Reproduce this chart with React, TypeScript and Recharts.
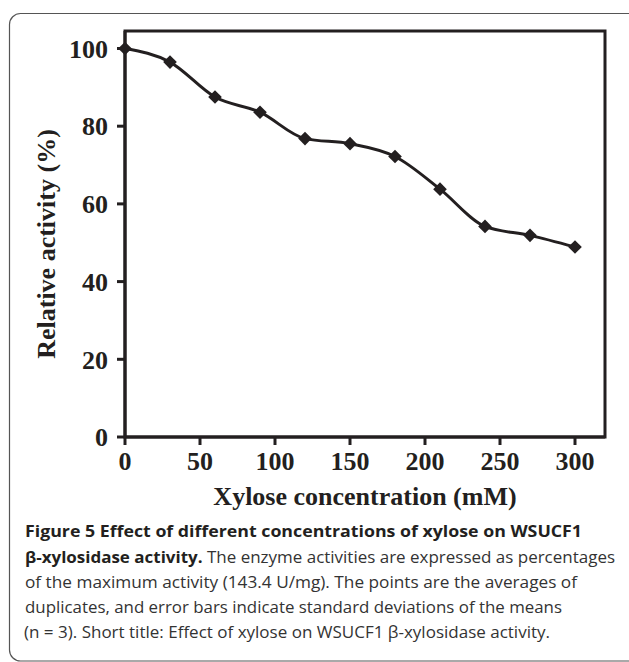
import React from 'react';
import { LineChart, Line, XAxis, YAxis, ReferenceArea } from 'recharts';

const concentrations = [0, 30, 60, 90, 120, 150, 180, 210, 240, 270, 300];
const activity = [100, 96.5, 87.5, 83.6, 76.8, 75.5, 72.2, 63.8, 54.2, 51.9, 48.9];
const xTicks = [0, 50, 100, 150, 200, 250, 300];
const yTicks = [0, 20, 40, 60, 80, 100];

const X_MAX = 320;
const Y_MAX = 104.5;

const INK = '#231f20';
const SERIF = '"Liberation Serif", "Times New Roman", serif';
const SANS = '"Open Sans", "Noto Sans", sans-serif';

const data = concentrations.map((c, i) => ({ x: c, y: activity[i] }));

const tickStyle = { fill: INK, fontFamily: SERIF, fontWeight: 700, fontSize: 26 };

function Diamond(props: any) {
    const { cx, cy } = props;
    if (cx == null || cy == null) return null;
    const r = 6.8;
    return <path d={`M${cx},${cy - r}L${cx + r},${cy}L${cx},${cy + r}L${cx - r},${cy}Z`} fill={INK} />;
}

function YLabel() {
    return (
        <text
            x={55}
            y={244}
            transform="rotate(-90 55 244)"
            textAnchor="middle"
            fill={INK}
            style={{ fontFamily: SERIF, fontWeight: 700, fontSize: 26 }}
        >
            Relative activity (%)
        </text>
    );
}

function XLabel() {
    return (
        <text x={365} y={505} textAnchor="middle" fill={INK} style={{ fontFamily: SERIF, fontWeight: 700, fontSize: 26 }}>
            Xylose concentration (mM)
        </text>
    );
}

function Caption() {
    const regular = { fontFamily: SANS, fontSize: 16, fill: '#333' };
    const bold = { fontFamily: SANS, fontSize: 16, fontWeight: 700, fill: INK };
    return (
        <svg width={629} height={662} style={{ position: 'absolute', left: 0, top: 0 }}>
            <rect x={9.5} y={13.5} width={640} height={647.5} rx={11} fill="none" stroke="#555" strokeWidth={1.2} />
            <text x={25} y={537} textLength={557} lengthAdjust="spacingAndGlyphs" style={bold}>
                Figure 5 Effect of different concentrations of xylose on WSUCF1
            </text>
            <text x={25} y={563} textLength={590} lengthAdjust="spacingAndGlyphs" style={regular}>
                <tspan style={bold}>β-xylosidase activity.</tspan> The enzyme activities are expressed as percentages
            </text>
            <text x={25} y={588} textLength={552} lengthAdjust="spacingAndGlyphs" style={regular}>
                of the maximum activity (143.4 U/mg). The points are the averages of
            </text>
            <text x={25} y={613} textLength={537} lengthAdjust="spacingAndGlyphs" style={regular}>
                duplicates, and error bars indicate standard deviations of the means
            </text>
            <text x={24} y={638} textLength={526} lengthAdjust="spacingAndGlyphs" style={regular}>
                (n = 3). Short title: Effect of xylose on WSUCF1 β-xylosidase activity.
            </text>
        </svg>
    );
}

export default function App() {
    return (
        <div style={{ position: 'absolute', left: 0, top: 0, width: 629, height: 662, background: '#fff' }}>
            <LineChart width={629} height={662} data={data} margin={{ top: 31, right: 24, left: 0, bottom: 165 }}>
                <XAxis
                    type="number"
                    dataKey="x"
                    domain={[0, X_MAX]}
                    ticks={xTicks}
                    height={60}
                    tickSize={8}
                    tickMargin={7}
                    axisLine={{ stroke: INK, strokeWidth: 3 }}
                    tickLine={{ stroke: INK, strokeWidth: 3 }}
                    tick={tickStyle}
                    label={<XLabel />}
                />
                <YAxis
                    type="number"
                    domain={[0, Y_MAX]}
                    ticks={yTicks}
                    width={125}
                    tickSize={8}
                    tickMargin={9}
                    axisLine={{ stroke: INK, strokeWidth: 3 }}
                    tickLine={{ stroke: INK, strokeWidth: 3 }}
                    tick={tickStyle}
                    label={<YLabel />}
                />
                <ReferenceArea x1={0} x2={X_MAX} y1={0} y2={Y_MAX} fill="none" stroke={INK} strokeWidth={3} fillOpacity={0} />
                <Line
                    type="monotone"
                    dataKey="y"
                    stroke={INK}
                    strokeWidth={3}
                    dot={<Diamond />}
                    activeDot={false}
                    isAnimationActive={false}
                />
            </LineChart>
            <Caption />
        </div>
    );
}
